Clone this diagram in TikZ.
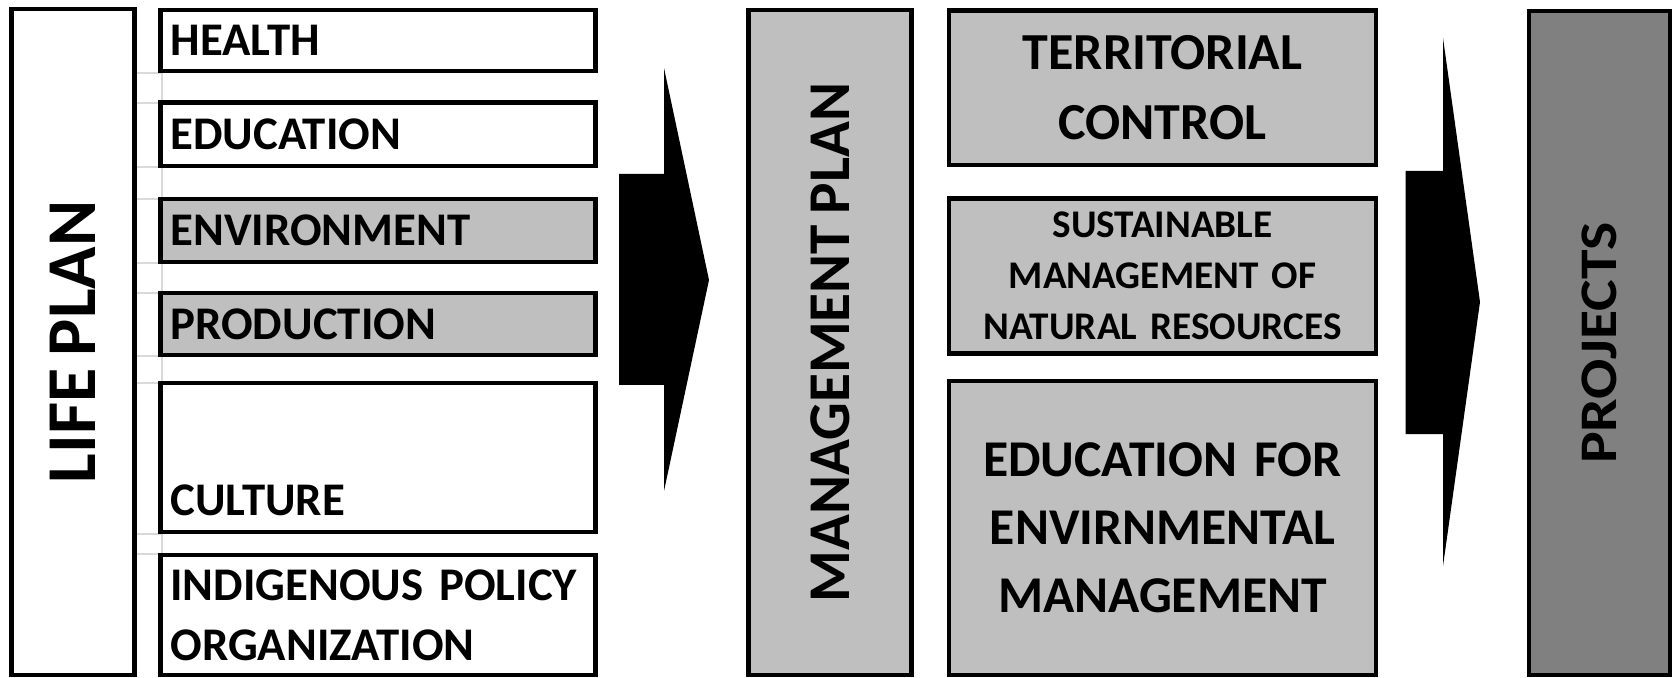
\documentclass[tikz,border=0pt]{standalone}
\usepackage{fontspec}
\setmainfont{Carlito}[WordSpace=0.8]
\usetikzlibrary{positioning}
\definecolor{boxgray}{HTML}{BFBFBF}
\definecolor{projgray}{HTML}{808080}
\definecolor{gridgray}{HTML}{D9D9D9}
\tikzset{%
	box/.style      = {draw, rectangle, line width=2.25pt, inner sep=0pt, font=\bfseries},
	item/.style     = {box, minimum width=217.5pt, text width=207.5pt, align=left, font=\bfseries\fontsize{23.4}{30}\selectfont},
	goal/.style     = {box, fill=boxgray, minimum width=213.5pt, text width=205pt, align=center},
	plan/.style     = {box, rotate=90},
	gridline/.style = {draw=gridgray, line width=0.75pt},
	blockarrow/.style = {fill=black},
}
\begin{document}
\begin{tikzpicture}[x=0.5pt,y=-0.5pt]
	\useasboundingbox (0,0) rectangle (1675,678);
	% grid marks between the items
	\foreach \a/\b in {73/103,167/199,263/293,356/383,534/554} {
		\draw[gridline] (136,\a) -- (162,\a) -- (162,\b);
		\draw[gridline] (136,\b) -- (160,\b);
	}
	% life plan
	\node[plan, minimum width=333pt, minimum height=61.5pt, font=\bfseries\fontsize{35}{40}\selectfont] (lifeplan) at (72.8,342) {LIFE PLAN};
	\node[item, minimum height=30.5pt] (health) at (378,40.5) {HEALTH};
	\node[item, minimum height=31.65pt] (education) at (378,134.3) {EDUCATION};
	\node[item, fill=boxgray, minimum height=31.5pt] (environment) at (378,230.5) {ENVIRONMENT};
	\node[item, fill=boxgray, minimum height=31pt] (production) at (378,324) {PRODUCTION};
	\node[item, minimum height=74.5pt, text height=58.5pt] (culture) at (378,457.5) {CULTURE};
	\node[item, minimum height=60pt] (policy) at (378,615) {INDIGENOUS POLICY\\ORGANIZATION};
	% management plan
	\fill[blockarrow] (619,174) -- (664,174) -- (664,68) -- (709,280) -- (664,491) -- (664,385) -- (619,385) -- cycle;
	\node[plan, fill=boxgray, minimum width=332.5pt, minimum height=81.5pt, font=\bfseries\fontsize{29.6}{36}\selectfont] (mgmtplan) at (830,342.5) {MANAGEMENT PLAN};
	\node[goal, minimum height=77.25pt, font=\bfseries\fontsize{26}{35}\selectfont] (territorial) at (1162.5,87.7) {TERRITORIAL\\CONTROL};
	\node[goal, minimum height=77.5pt, font=\bfseries\fontsize{19.6}{25.5}\selectfont] (resources) at (1162.5,276) {SUSTAINABLE\\MANAGEMENT OF\\NATURAL RESOURCES};
	\node[goal, minimum height=146.75pt, font=\bfseries\fontsize{25.8}{34}\selectfont] (envmgmt) at (1162.5,528) {EDUCATION FOR\\ENVIRNMENTAL\\MANAGEMENT};
	% projects
	\fill[blockarrow] (1405.5,171) -- (1443,171) -- (1443,38) -- (1480,302) -- (1443,566) -- (1443,434) -- (1405.5,434) -- cycle;
	\node[plan, fill=projgray, minimum width=332pt, minimum height=70.5pt, font=\bfseries\fontsize{26.4}{32}\selectfont] (projects) at (1599.5,343) {\scalebox{1.13}[1]{PROJECTS}};
\end{tikzpicture}
\end{document}
